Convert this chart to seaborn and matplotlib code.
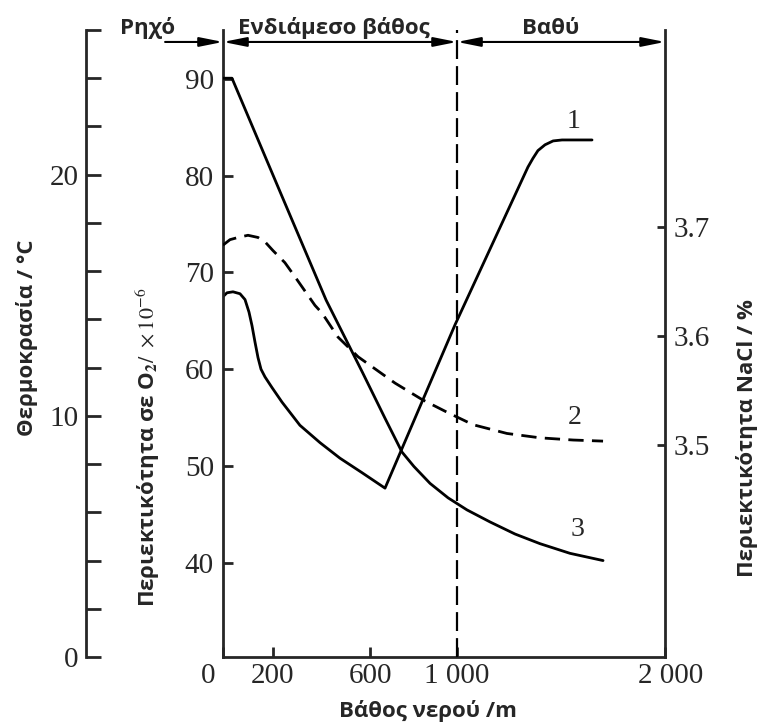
import numpy as np
import matplotlib
matplotlib.use("Agg")
import matplotlib.pyplot as plt
import matplotlib.transforms as mtransforms
import seaborn as sns

# ---------------- data ----------------
# curve 1: dissolved O2 (x10^-6) vs depth (m)
depth_o2 = [0, 16, 40, 68, 88, 104, 116, 128, 140, 152, 168, 196, 237, 311, 394,
            476, 567, 669, 991, 1341, 1365, 1389, 1423, 1462, 1505, 1649]
o2 = [67.5, 67.9, 68.0, 67.8, 67.2, 65.9, 64.5, 62.8, 61.2, 60.0, 59.2, 58.1, 56.6,
      54.2, 52.4, 50.8, 49.3, 47.7, 64.6, 80.9, 81.8, 82.6, 83.2, 83.6, 83.7, 83.7]
# curve 2: NaCl content (%) vs depth (m)
depth_nacl = [0, 28, 60, 100, 140, 168, 200, 249, 291, 332, 373, 402, 468, 551, 609,
              715, 839, 958, 1077, 1240, 1399, 1558, 1702]
nacl = [3.683, 3.688, 3.690, 3.692, 3.690, 3.686, 3.678, 3.667, 3.654, 3.641, 3.628,
        3.621, 3.599, 3.581, 3.572, 3.557, 3.542, 3.530, 3.519, 3.511, 3.507, 3.505,
        3.504]
# curve 3: temperature (°C) vs depth (m)
depth_temp = [0, 36, 233, 419, 569, 669, 747, 802, 876, 959, 1048, 1159, 1279, 1399,
              1543, 1702]
temp = [24.0, 24.0, 19.2, 14.8, 11.8, 9.9, 8.5, 7.9, 7.2, 6.6, 6.1, 5.6, 5.1, 4.7,
        4.3, 4.0]

x_ticks = [0, 200, 600, 1000, 2000]
x_ticklabels = ["0", "200", "600", "1 000", "2 000"]
o2_ticks = [40, 50, 60, 70, 80, 90]
nacl_ticks = [3.5, 3.6, 3.7]
nacl_ticklabels = ["3.5", "3.6", "3.7"]
temp_ticks = list(range(0, 27, 2))
temp_ticklabels = ["0", "", "", "", "", "10", "", "", "", "", "20", "", "", ""]
zone_labels = ["Ρηχό", "Ενδιάμεσο βάθος", "Βαθύ"]
zone_limit = 1000

# ---------------- non-uniform depth scale of the original drawing ----------------
scale_depth = np.array([0.0, 200.0, 600.0, 1000.0, 2000.0])
scale_pos = np.array([0.0, 50.0, 147.0, 234.0, 442.0])


def _pw(x, xs, ys):
    x = np.asarray(x, dtype=float)
    y = np.interp(x, xs, ys)
    lo = ys[0] + (x - xs[0]) * (ys[1] - ys[0]) / (xs[1] - xs[0])
    hi = ys[-1] + (x - xs[-1]) * (ys[-1] - ys[-2]) / (xs[-1] - xs[-2])
    y = np.where(x < xs[0], lo, y)
    y = np.where(x > xs[-1], hi, y)
    return y


def fwd(x):
    return _pw(x, scale_depth, scale_pos)


def inv(x):
    return _pw(x, scale_pos, scale_depth)


# ---------------- style ----------------
sns.set_style("ticks")
plt.rcParams["font.family"] = ["Liberation Serif", "DejaVu Serif"]
plt.rcParams["mathtext.fontset"] = "stix"
SANS = ["Open Sans", "DejaVu Sans"]
LW = 2.0
TICK_FS = 21
LABEL_FS = 16

fig = plt.figure(figsize=(7.59, 7.26), dpi=100)
ax = fig.add_axes([0.2938, 0.0950, 0.5824, 0.8637])
ax.set_xscale("function", functions=(fwd, inv))
ax.set_xlim(0, 2000)

ax_n = ax.twinx()
ax_t = ax.twinx()

# curves
sns.lineplot(x=depth_o2, y=o2, ax=ax, color="black", lw=LW, estimator=None)
sns.lineplot(x=depth_nacl, y=nacl, ax=ax_n, color="black", lw=LW, estimator=None,
             linestyle=(0, (5.5, 3.0)))
sns.lineplot(x=depth_temp, y=temp, ax=ax_t, color="black", lw=LW, estimator=None)
ax.axvline(zone_limit, color="black", lw=1.6, linestyle=(0, (8.5, 3.2)), zorder=3)

# limits
ax.set_ylim(30.24, 95.07)
ax_n.set_ylim(3.3068, 3.8795)
ax_t.set_ylim(0, 26.0)
ax.set_xlim(0, 2000)

# spines
for a in (ax, ax_n, ax_t):
    for s in a.spines.values():
        s.set_visible(False)
        s.set_linewidth(LW)
ax.spines["left"].set_visible(True)
ax.spines["bottom"].set_visible(True)
ax_n.spines["right"].set_visible(True)
ax_t.spines["left"].set_visible(True)
ax_t.spines["left"].set_position(("outward", 137 * 0.72))
ax_t.spines["left"].set_bounds(0, 26)

# O2 axis (main, left)
ax.set_yticks(o2_ticks)
ax.set_yticklabels([str(v) for v in o2_ticks])
ax.tick_params(axis="y", direction="in", length=7.5, width=LW, labelsize=TICK_FS,
               pad=6.5, left=True, right=False)
# x axis
ax.set_xticks(x_ticks)
ax.set_xticklabels(x_ticklabels)
ax.tick_params(axis="x", direction="in", length=7.2, width=LW, labelsize=TICK_FS,
               pad=4.0, top=False)
ax.minorticks_off()
offs = {0: -15, 4: 6}
for i, lab in enumerate(ax.get_xticklabels()):
    if i in offs:
        lab.set_transform(lab.get_transform() +
                          mtransforms.ScaledTranslation(offs[i] / 100, 0, fig.dpi_scale_trans))

# NaCl axis (right)
ax_n.set_yticks(nacl_ticks)
ax_n.set_yticklabels(nacl_ticklabels)
ax_n.tick_params(axis="y", direction="in", length=6, width=LW, labelsize=TICK_FS,
                 pad=5.8, left=False, right=True)

# temperature axis (outer left)
ax_t.yaxis.tick_left()
ax_t.yaxis.set_label_position("left")
ax_t.set_yticks(temp_ticks)
ax_t.set_yticklabels(temp_ticklabels)
ax_t.tick_params(axis="y", direction="in", length=10.5, width=LW, labelsize=TICK_FS,
                 pad=5.5, left=True, right=False)

# axis labels
ax_t.set_ylabel("Θερμοκρασία / °C", fontfamily=SANS, fontweight="bold", fontsize=LABEL_FS)
ax_t.yaxis.set_label_coords(-0.4434, 0.5088)
ax_t.yaxis.label.set_va("center")

ax.set_ylabel("Περιεκτικότητα σε O$_{\\mathbf{2}}$$\\mathrm{/\\ \\times 10^{-6}}$",
              fontfamily=SANS, fontweight="bold", fontsize=LABEL_FS)
ax.yaxis.set_label_coords(-0.1697, 0.335)
ax.yaxis.label.set_va("center")

ax_n.set_ylabel("Περιεκτικότητα NaCl / %", fontfamily=SANS, fontweight="bold",
                fontsize=LABEL_FS)
ax_n.yaxis.set_label_position("right")
ax_n.yaxis.set_label_coords(1.1855, 0.349)
ax_n.yaxis.label.set_va("center")
ax_n.yaxis.label.set_rotation(90)

ax.set_xlabel("Βάθος νερού /m", fontfamily=SANS, fontweight="bold", fontsize=LABEL_FS)
ax.xaxis.set_label_coords(0.4638, -0.0861)
ax.xaxis.label.set_va("center")

# curve numbers
ax.text(1558, 85.6, "1", fontsize=20, ha="center", va="center")
ax_n.text(1567, 3.526, "2", fontsize=20, ha="center", va="center")
ax_t.text(1577, 5.27, "3", fontsize=20, ha="center", va="center")

# depth zones along the top
y_arrow = 0.9809
arrow_kw = dict(color="black", lw=1.5, shrinkA=0, shrinkB=0, mutation_scale=14)
ax.annotate("", xy=(0, y_arrow), xytext=(-0.131, y_arrow), xycoords="axes fraction",
            arrowprops=dict(arrowstyle="-|>,head_length=1.0,head_width=0.2", **arrow_kw),
            annotation_clip=False)
tx = ax.get_xaxis_transform()
ax.annotate("", xy=(zone_limit, y_arrow), xytext=(0, y_arrow), xycoords=tx,
            arrowprops=dict(arrowstyle="<|-|>,head_length=1.0,head_width=0.2", **arrow_kw),
            annotation_clip=False)
ax.annotate("", xy=(2000, y_arrow), xytext=(zone_limit, y_arrow), xycoords=tx,
            arrowprops=dict(arrowstyle="<|-|>,head_length=1.0,head_width=0.2", **arrow_kw),
            annotation_clip=False)
for lab, xa in zip(zone_labels, [-0.1697, 0.2511, 0.742]):
    ax.text(xa, 1.0030, lab, transform=ax.transAxes, ha="center", va="center",
            fontfamily=SANS, fontweight="bold", fontsize=LABEL_FS, clip_on=False)

fig.savefig("out.png", dpi=100)
